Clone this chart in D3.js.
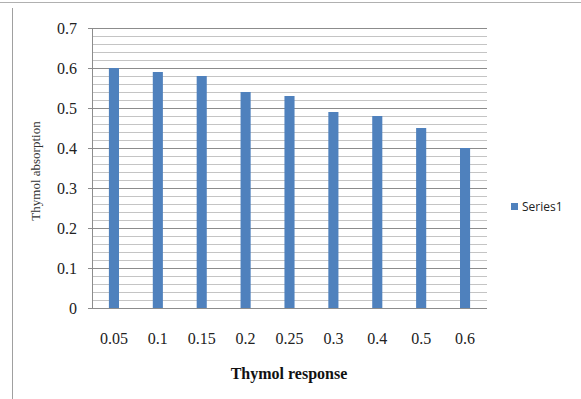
<!DOCTYPE html>
<html lang="en">
<head>
  <meta charset="UTF-8">
  <title>Thymol absorption</title>
  <script src="https://d3js.org/d3.v7.min.js"></script>
  <style>
    body { margin: 0; background: #fff; }
    svg { display: block; }
  </style>
</head>
<body>
  <svg width="581" height="399"></svg>

  <script>
    const categories = ["0.05", "0.1", "0.15", "0.2", "0.25", "0.3", "0.4", "0.5", "0.6"];
    const values = [0.60, 0.59, 0.58, 0.54, 0.53, 0.49, 0.48, 0.45, 0.40];
    const yTicks = [0, 0.1, 0.2, 0.3, 0.4, 0.5, 0.6, 0.7];
    const seriesName = "Series1";

    const data = categories.map((c, i) => ({ cat: c, value: values[i] }));

    const svg = d3.select("svg"),
      margin = { top: 28, right: 94, bottom: 91, left: 92 },
      width = +svg.attr("width") - margin.left - margin.right,
      height = +svg.attr("height") - margin.top - margin.bottom;

    // outer frame (top and left edges only visible)
    svg.append("line").attr("x1", 0).attr("x2", 581).attr("y1", 2.5).attr("y2", 2.5)
      .attr("stroke", "#b0b0b0");
    svg.append("line").attr("x1", 12.5).attr("x2", 12.5).attr("y1", 8).attr("y2", 399)
      .attr("stroke", "#a0a0a0");

    const g = svg.append("g").attr("transform", `translate(${margin.left},${margin.top})`);

    const x = d3.scaleBand().domain(categories).range([0, width])
      .paddingInner(0.77).paddingOuter(0.385);
    const y = d3.scaleLinear().domain([0, 0.7]).range([height, 0]);

    // minor gridlines
    const minor = d3.range(0, 0.7001, 0.02).filter(v => Math.abs(v * 10 - Math.round(v * 10)) > 1e-6);
    g.selectAll(".minor").data(minor).enter().append("line")
      .attr("x1", 0).attr("x2", width)
      .attr("y1", d => Math.round(y(d)) + 0.5).attr("y2", d => Math.round(y(d)) + 0.5)
      .attr("stroke", "#c4c4c4");

    // major gridlines
    g.selectAll(".major").data(yTicks.slice(1)).enter().append("line")
      .attr("x1", 0).attr("x2", width)
      .attr("y1", d => Math.round(y(d)) + 0.5).attr("y2", d => Math.round(y(d)) + 0.5)
      .attr("stroke", "#8c8c8c");

    // Y axis
    const yAxis = g.append("g")
      .call(d3.axisLeft(y).tickValues(yTicks).tickSize(4).tickPadding(11)
        .tickFormat(d => d === 0 ? "0" : d3.format(".1f")(d)));
    yAxis.select(".domain").attr("stroke", "#8c8c8c").attr("d", `M0.5,0V${height}`);
    yAxis.selectAll(".tick line").attr("stroke", "#8c8c8c");
    yAxis.selectAll("text").attr("font-family", "Liberation Serif, serif").attr("font-size", 16).attr("fill", "#222");

    // bars
    g.selectAll(".bar").data(data).enter().append("rect")
      .attr("x", d => x(d.cat))
      .attr("y", d => y(d.value))
      .attr("width", x.bandwidth())
      .attr("height", d => height - y(d.value))
      .attr("fill", "#4f81bd");

    // X axis
    const xAxis = g.append("g")
      .attr("transform", `translate(0,${height})`)
      .call(d3.axisBottom(x).tickSize(0).tickPadding(25));
    xAxis.select(".domain").attr("stroke", "#8c8c8c").attr("d", `M-4,0.5H${width}`);
    xAxis.selectAll("text").attr("font-family", "Liberation Serif, serif").attr("font-size", 16).attr("fill", "#222");

    // axis titles
    svg.append("text")
      .attr("x", 289).attr("y", 379)
      .attr("text-anchor", "middle")
      .attr("font-family", "Liberation Serif, serif").attr("font-weight", "bold").attr("font-size", 16)
      .attr("fill", "#111")
      .text("Thymol response");

    svg.append("text")
      .attr("transform", "translate(40,171) rotate(-90)")
      .attr("text-anchor", "middle")
      .attr("font-family", "Liberation Serif, serif").attr("font-size", 13)
      .attr("fill", "#333")
      .text("Thymol absorption");

    // legend
    const lg = svg.append("g").attr("transform", "translate(511,203)");
    lg.append("rect").attr("width", 7).attr("height", 7).attr("fill", "#4f81bd");
    lg.append("text").attr("x", 11).attr("y", 8)
      .attr("font-family", "Open Sans, sans-serif").attr("font-size", 12).attr("fill", "#222")
      .text(seriesName);
  </script>
</body>
</html>
